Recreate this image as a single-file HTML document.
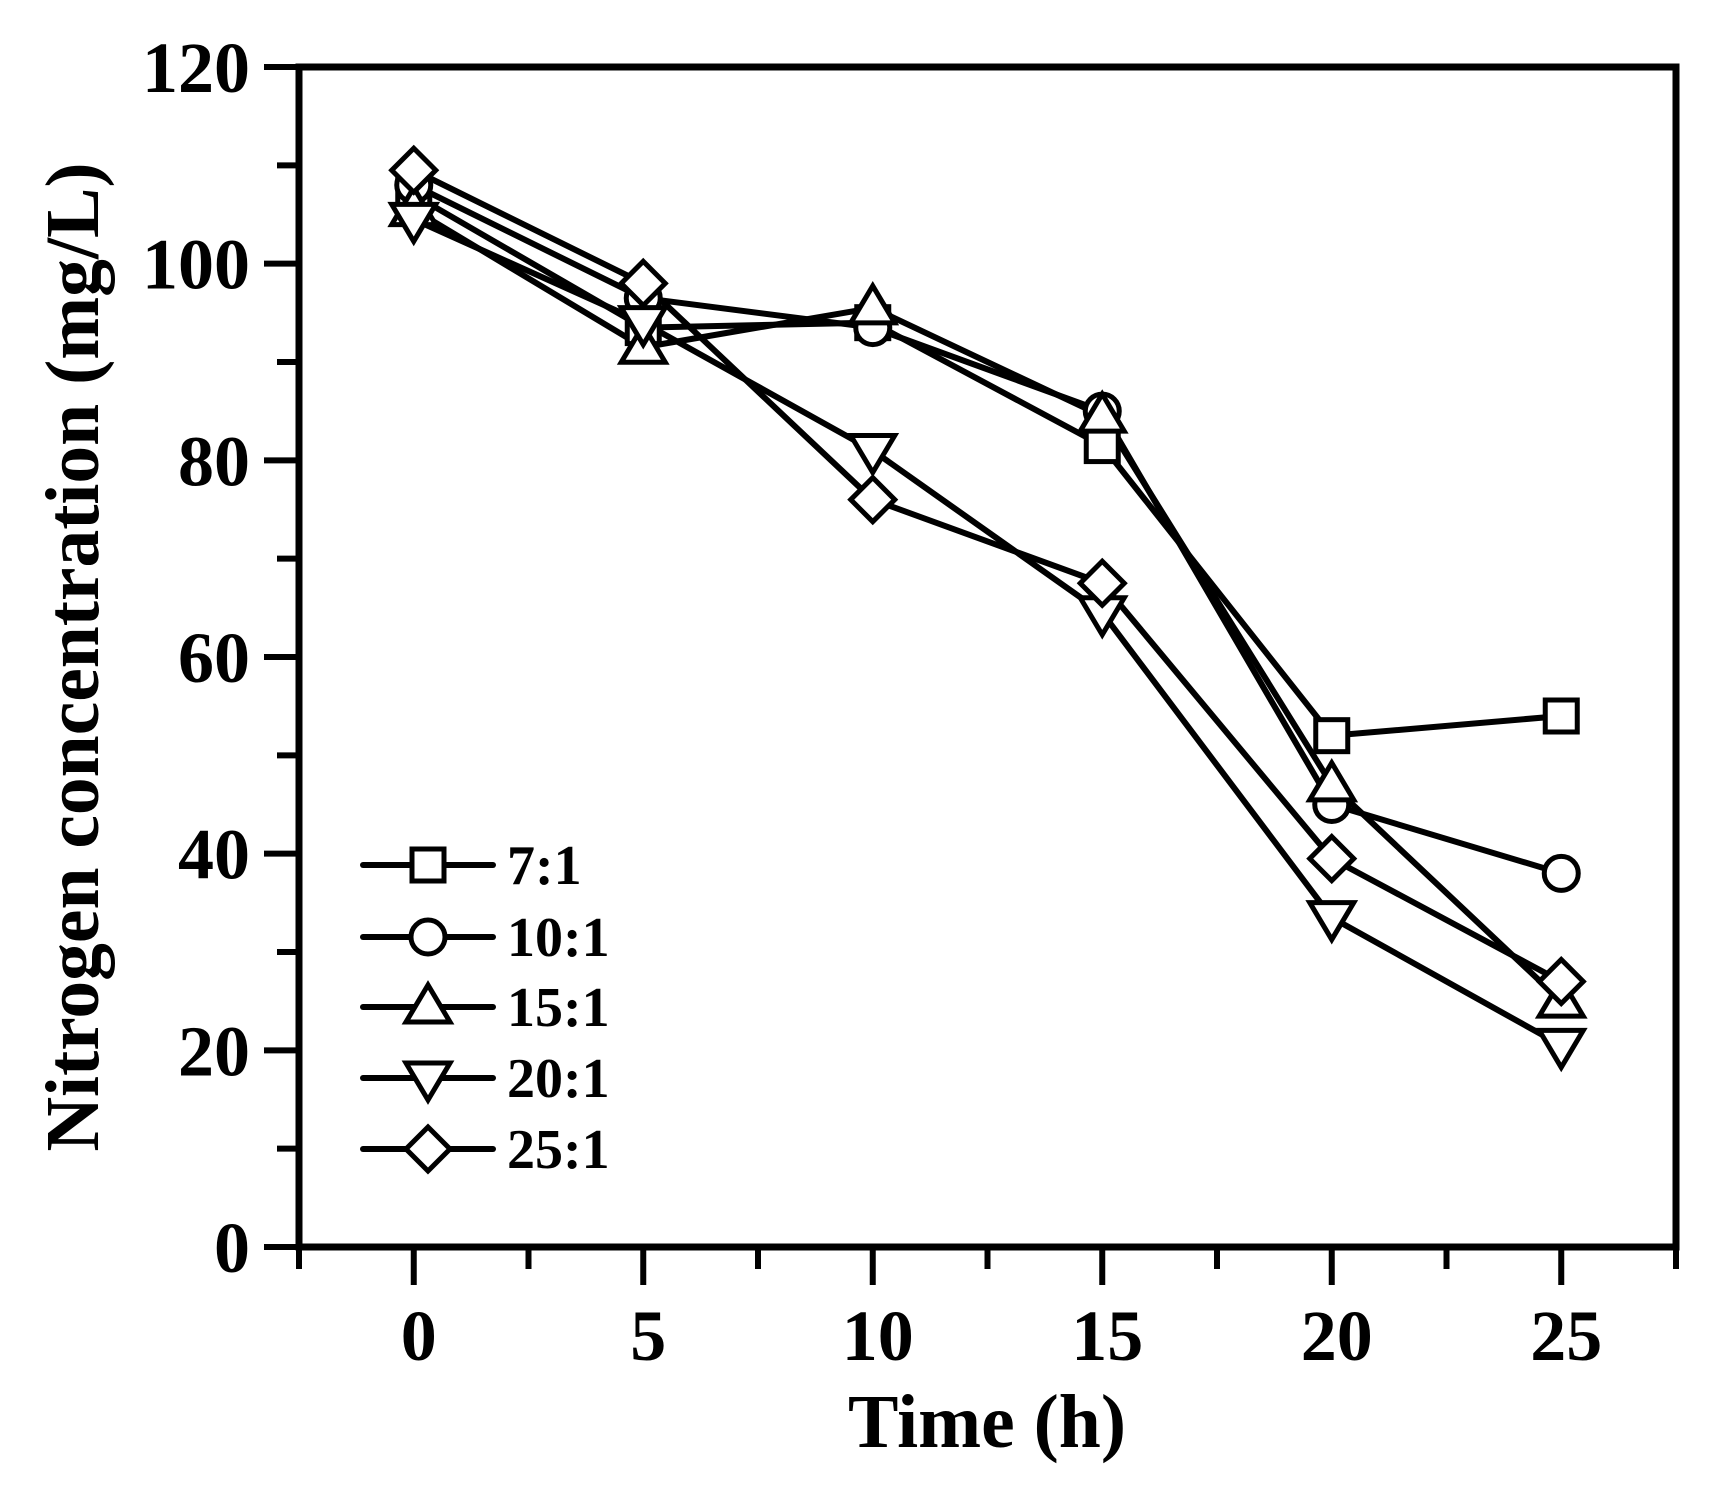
<!DOCTYPE html>
<html><head><meta charset="utf-8"><style>
html,body{margin:0;padding:0;background:#fff;}
svg{display:block;font-family:"Liberation Serif",serif;font-weight:bold;}
</style></head><body>
<svg id="chart" width="1735" height="1488" viewBox="0 0 1735 1488" xmlns="http://www.w3.org/2000/svg">
<rect x="0" y="0" width="1735" height="1488" fill="#fff"/>
<g id="series"></g>
<g id="axes"></g>
<text x="987" y="1447" font-size="76" text-anchor="middle" textLength="278" lengthAdjust="spacingAndGlyphs">Time (h)</text>
<text transform="translate(98,657) rotate(-90)" x="0" y="0" font-size="76" text-anchor="middle" textLength="989" lengthAdjust="spacingAndGlyphs">Nitrogen concentration (mg/L)</text>
<g id="legend"></g>
</svg>
<script>
const times = [0, 5, 10, 15, 20, 25];
const seriesNames = ["7:1", "10:1", "15:1", "20:1", "25:1"];
const markers = ["square", "circle", "up", "down", "diamond"];
const s71 = [107, 93.5, 94, 81.5, 52, 54];
const s101 = [108, 96.5, 93.5, 85, 45, 38];
const s151 = [105.5, 91.5, 95.5, 84.5, 47, 25];
const s201 = [104.5, 94, 81, 64.5, 33.5, 20.5];
const s251 = [109.5, 98, 76, 67.5, 39.5, 27];
const yTicks = [0, 20, 40, 60, 80, 100, 120];
const xTicks = [0, 5, 10, 15, 20, 25];

const NS = "http://www.w3.org/2000/svg";
const L = 299, R = 1676, T = 67, B = 1247;
const xMin = -2.5, xMax = 27.5, yMin = 0, yMax = 120;
const xs = v => L + (v - xMin) / (xMax - xMin) * (R - L);
const ys = v => B - (v - yMin) / (yMax - yMin) * (B - T);

function mk(tag, attrs, parent) {
  const e = document.createElementNS(NS, tag);
  for (const k in attrs) e.setAttribute(k, attrs[k]);
  parent.appendChild(e);
  return e;
}
function marker(type, cx, cy, parent) {
  const st = {fill: "#fff", stroke: "#000", "stroke-width": 5};
  let e;
  if (type === "square") e = mk("rect", Object.assign({x: cx - 16, y: cy - 16, width: 32, height: 32}, st), parent);
  else if (type === "circle") e = mk("circle", Object.assign({cx: cx, cy: cy, r: 17}, st), parent);
  else if (type === "up") e = mk("polygon", Object.assign({points: `${cx},${cy-22} ${cx-22},${cy+15} ${cx+22},${cy+15}`}, st), parent);
  else if (type === "down") e = mk("polygon", Object.assign({points: `${cx},${cy+22} ${cx-22},${cy-15} ${cx+22},${cy-15}`}, st), parent);
  else e = mk("polygon", Object.assign({points: `${cx},${cy-22} ${cx+22},${cy} ${cx},${cy+22} ${cx-22},${cy}`}, st), parent);
  
  
  return e;
}

const allSeries = [s71, s101, s151, s201, s251];
const sg = document.getElementById("series");
allSeries.forEach((vals, i) => {
  const g = mk("g", {}, sg);
  
  
  const pts = vals.map((v, j) => xs(times[j]) + "," + ys(v)).join(" ");
  const pl = mk("polyline", {points: pts, fill: "none", stroke: "#000", "stroke-width": 6, "stroke-linejoin": "round"}, g);
  
  
});
allSeries.forEach((vals, i) => {
  const g = mk("g", {}, sg);
  
  
  vals.forEach((v, j) => marker(markers[i], xs(times[j]), ys(v), g));
});

const ax = document.getElementById("axes");
const frame = mk("rect", {x: L, y: T, width: R - L, height: B - T, fill: "none", stroke: "#000", "stroke-width": 7}, ax);


for (let v = 0; v <= 120; v += 10) {
  const major = v % 20 === 0;
  const t = mk("line", {x1: L - (major ? 35 : 22), x2: L, y1: ys(v), y2: ys(v), stroke: "#000", "stroke-width": 6}, ax);
  
  
}
yTicks.forEach(v => {
  const t = mk("text", {x: 250, y: ys(v) + 25, "font-size": 72, "text-anchor": "end"}, ax);
  t.textContent = v;
  
  
});
for (let v = -2.5; v <= 27.5; v += 2.5) {
  const major = Math.abs(v % 5) < 1e-9;
  const t = mk("line", {x1: xs(v), x2: xs(v), y1: B, y2: B + (major ? 38 : 22), stroke: "#000", "stroke-width": 6}, ax);
  
  
}
xTicks.forEach(v => {
  const t = mk("text", {x: xs(v) + 5, y: 1360, "font-size": 72, "text-anchor": "middle"}, ax);
  t.textContent = v;
  
  
});

const lg = document.getElementById("legend");


const legY = [865, 937, 1007, 1078, 1149];
seriesNames.forEach((n, i) => {
  const g = mk("g", {}, lg);
  
  
  const y = legY[i];
  mk("line", {x1: 363, x2: 493, y1: y, y2: y, stroke: "#000", "stroke-width": 6, "stroke-linecap": "round"}, g);
  marker(markers[i], 428, y, g);
  const t = mk("text", {x: 507, y: y + 19, "font-size": 56}, g);
  t.textContent = n;
  
  
});
</script>
</body></html>
